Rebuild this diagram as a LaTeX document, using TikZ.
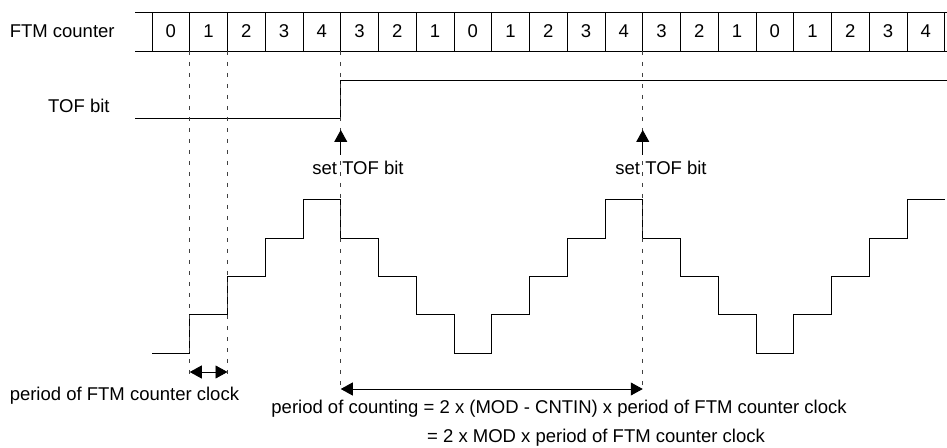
\documentclass[tikz,border=0pt]{standalone}
\usepackage{fontspec}
\setmainfont{Liberation Sans}
\usetikzlibrary{arrows.meta}
\def\ftmvals{0,1,2,3,4,3,2,1,0,1,2,3,4,3,2,1,0,1,2,3,4}
\begin{document}
\begin{tikzpicture}[x=1pt,y=1pt,line width=0.9pt,
		font=\fontsize{18.5}{22}\selectfont,
		cell/.style={draw,minimum width=37.75pt,minimum height=39pt,inner sep=0pt,outer sep=0pt},
		txt/.style={inner sep=0pt},
		guide/.style={black!75,line width=0.8pt,dash pattern=on 4pt off 7pt},
		uparr/.style={-{Triangle[length=12pt,width=13pt]}},
		darr/.style={{Triangle[length=12pt,width=13pt]}-{Triangle[length=12pt,width=13pt]}}]
				\useasboundingbox (0,0) rectangle (947,447);
				\coordinate (RT0) at (135,435);
				\coordinate (RT1) at (947,435);
				\coordinate (RB0) at (135,396);
				\coordinate (RB1) at (947,396);
				\draw (RT0)--(RT1);
				\draw (RB0)--(RB1);
				\foreach \v [count=\i from 0] in \ftmvals
					\node[cell] (C\i) at ({152+(\i+0.5)*37.75},415.5) {\v};
				\node[txt,anchor=base west] (FTM) at (9.3,409.7) {FTM counter};
				\node[txt,anchor=base east] (TOF) at (110,334.3) {TOF bit};
				\coordinate (T0) at (135,329);
				\coordinate (T1) at (340.75,329);
				\coordinate (T2) at (340.75,367);
				\coordinate (T3) at (947,367);
				\draw (T0)--(T1)--(T2)--(T3);
				\draw (152,94) \foreach \v [count=\i from 0] in \ftmvals
					{ -- ({152+\i*37.75},{94+\v*38.3}) -- ({152+(\i+1)*37.75},{94+\v*38.3}) };
				\coordinate (K1) at (189.75,70);
				\coordinate (K2) at (227.5,70);
				\coordinate (M1) at (340.75,58);
				\coordinate (M2) at (642.75,58);
				\draw[guide] (C1.south west)--(K1);
				\draw[guide] (C2.south west)--(K2);
				\draw[guide] (C5.south west)--(M1);
				\draw[guide] (C13.south west)--(M2);
				\coordinate (A1) at (189.75,75);
				\coordinate (A2) at (227.5,75);
				\draw[darr] (A1)--(A2);
				\draw[darr] (M1)--(M2);
				\coordinate (U1) at (340.75,292);
				\coordinate (V1) at (340.75,317);
				\coordinate (U2) at (642.75,292);
				\coordinate (V2) at (642.75,317);
				\draw[uparr] (U1)--(V1);
				\draw[uparr] (U2)--(V2);
				\node[txt,anchor=base west] (S1) at (312,272.7) {set TOF bit};
				\node[txt,anchor=base west] (S2) at (615,272.7) {set TOF bit};
				\node[txt,anchor=base west] (CLK) at (9.3,46) {period of FTM counter clock};
				\node[txt,anchor=base west] (CNT1) at (271,33.5) {period of counting = 2 x (MOD - CNTIN) x period of FTM counter clock};
				\node[txt,anchor=base west] (CNT2) at (426.7,4.5) {= 2 x MOD x period of FTM counter clock};
\end{tikzpicture}
\end{document}
